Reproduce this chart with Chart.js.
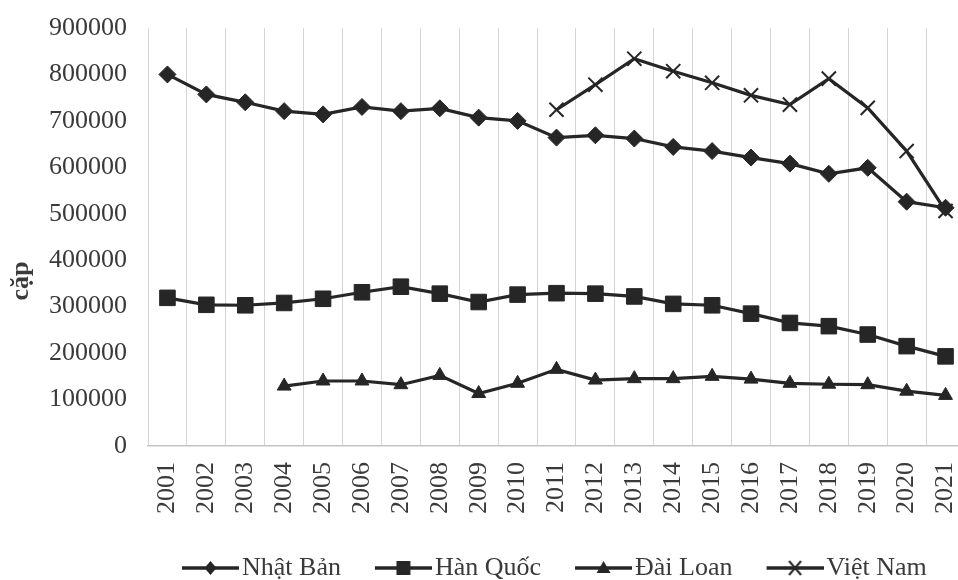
<!DOCTYPE html>
<html>
<head>
<meta charset="utf-8">
<script src="https://cdn.jsdelivr.net/npm/chart.js@4/dist/chart.umd.min.js"></script>
<style>
  html, body { margin: 0; padding: 0; background: #fff; overflow: hidden; }
  #chart { display: block; }
</style>
</head>
<body>
<canvas id="chart" width="977" height="591"></canvas>
<script>
const years = ['2001', '2002', '2003', '2004', '2005', '2006', '2007', '2008', '2009', '2010',
  '2011', '2012', '2013', '2014', '2015', '2016', '2017', '2018', '2019', '2020', '2021'];

const nhatBan = [800000, 757000, 740000, 721000, 714000, 730000, 721000, 727000, 707000, 700000,
  664000, 669000, 662000, 644000, 635000, 621000, 608000, 586000, 599000, 526000, 513000];
const hanQuoc = [319000, 304000, 303000, 308000, 317000, 331000, 343000, 328000, 310000, 326000,
  329000, 328000, 322000, 306000, 303000, 285000, 265000, 258000, 240000, 215000, 193000];
const daiLoan = [null, null, null, 129000, 140000, 140000, 132000, 152000, 113000, 135000,
  165000, 142000, 145000, 145000, 150000, 144000, 135000, 133000, 132000, 118000, 109000];
const vietNam = [null, null, null, null, null, null, null, null, null, null,
  724000, 778000, 834000, 807000, 782000, 755000, 735000, 791000, 728000, 635000, 506000];

const seriesNames = ['Nhật Bản', 'Hàn Quốc', 'Đài Loan', 'Việt Nam'];
const yTitle = 'cặp';
const yMax = 900000;
const yStep = 100000;

const ink = '#262626';
const textColor = '#3a3a3a';
const serif = "'Liberation Serif', 'Times New Roman', serif";

// legend icon: short line with the marker in the middle, padded on the left
function makeIcon(shape) {
  const c = document.createElement('canvas');
  c.width = 97;
  c.height = 30;
  const g = c.getContext('2d');
  const cx = 68.5, cy = 15;
  g.strokeStyle = ink;
  g.fillStyle = ink;
  g.lineWidth = 3.5;
  g.beginPath();
  g.moveTo(40, cy);
  g.lineTo(97, cy);
  g.stroke();
  g.beginPath();
  if (shape === 'diamond') {
    g.moveTo(cx, cy - 7); g.lineTo(cx + 6, cy); g.lineTo(cx, cy + 7); g.lineTo(cx - 6, cy);
    g.closePath(); g.fill();
  } else if (shape === 'square') {
    g.rect(cx - 7, cy - 7, 14, 14); g.fill();
  } else if (shape === 'triangle') {
    g.moveTo(cx, cy - 7); g.lineTo(cx + 7, cy + 5); g.lineTo(cx - 7, cy + 5);
    g.closePath(); g.fill();
  } else {
    g.lineWidth = 2;
    g.moveTo(cx - 6, cy - 7); g.lineTo(cx + 6, cy + 7);
    g.moveTo(cx + 6, cy - 7); g.lineTo(cx - 6, cy + 7);
    g.stroke();
  }
  return c;
}

const legendIcons = [makeIcon('diamond'), makeIcon('square'), makeIcon('triangle'), makeIcon('cross')];

const axisTitle = {
  id: 'axisTitle',
  afterDraw(chart) {
    const ctx = chart.ctx;
    ctx.save();
    ctx.translate(21, 281);
    ctx.rotate(-Math.PI / 2);
    ctx.font = 'bold 26px ' + serif;
    ctx.fillStyle = textColor;
    ctx.textAlign = 'center';
    ctx.textBaseline = 'middle';
    ctx.fillText(yTitle, 0, 0);
    ctx.restore();
  }
};

function line(label, data, pointStyle, radius, extra) {
  return Object.assign({
    label,
    data,
    borderColor: ink,
    backgroundColor: ink,
    borderWidth: 3.2,
    pointStyle,
    pointRadius: radius,
    pointHoverRadius: radius,
    pointBackgroundColor: ink,
    pointBorderColor: ink,
    pointBorderWidth: 1,
    tension: 0,
    spanGaps: false,
  }, extra || {});
}

new Chart(document.getElementById('chart'), {
  type: 'line',
  data: {
    labels: years,
    datasets: [
      line(seriesNames[0], nhatBan, 'rectRot', 8.5),
      line(seriesNames[1], hanQuoc, 'rect', 11),
      line(seriesNames[2], daiLoan, 'triangle', 8),
      line(seriesNames[3], vietNam, 'crossRot', 10, { pointBorderWidth: 2 }),
    ],
  },
  options: {
    responsive: false,
    animation: false,
    layout: { padding: { top: 28, right: 3, left: 0, bottom: 0 } },
    plugins: {
      tooltip: { enabled: false },
      legend: {
        position: 'bottom',
        fullSize: false,
        align: 'start',
        labels: {
          usePointStyle: true,
          pointStyleWidth: 77,
          padding: 4,
          color: textColor,
          font: { family: serif, size: 26 },
          generateLabels(chart) {
            return chart.data.datasets.map((ds, i) => ({
              text: ds.label,
              pointStyle: legendIcons[i],
              fillStyle: ink,
              strokeStyle: ink,
              lineWidth: 0,
              hidden: false,
              datasetIndex: i,
              fontColor: textColor,
            }));
          },
        },
      },
    },
    scales: {
      x: {
        offset: true,
        grid: { offset: true, color: '#d4d4d4', lineWidth: 1, drawTicks: false },
        border: { color: '#c4c4c4', width: 1.5 },
        ticks: {
          minRotation: 90,
          maxRotation: 90,
          padding: 16,
          color: textColor,
          font: { family: serif, size: 26 },
        },
        afterFit(scale) {
          scale.height = 105;
          scale.paddingLeft = 0;
          scale.paddingRight = 0;
        },
      },
      y: {
        min: 0,
        max: yMax,
        grid: { display: false, drawTicks: false },
        border: { display: false },
        ticks: {
          stepSize: yStep,
          padding: 21,
          color: textColor,
          font: { family: serif, size: 26 },
          callback: (v) => String(v),
        },
        afterFit(scale) {
          scale.width = 148;
          scale.paddingTop = 0;
          scale.paddingBottom = 0;
        },
      },
    },
  },
  plugins: [axisTitle],
});
</script>
</body>
</html>
